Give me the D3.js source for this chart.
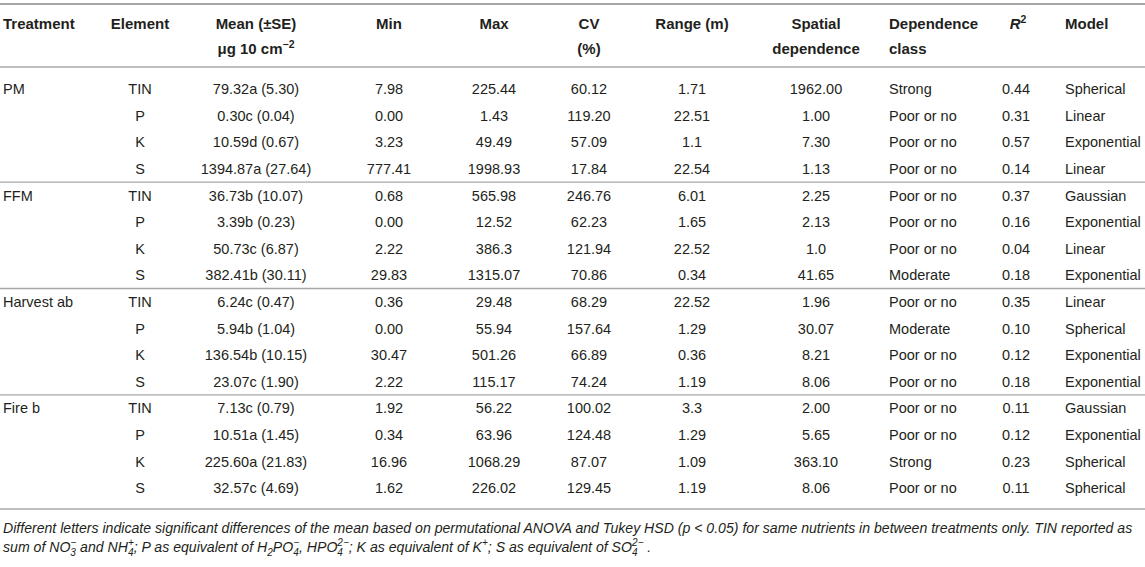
<!DOCTYPE html>
<html>
<head>
<meta charset="utf-8">
<script src="https://cdn.jsdelivr.net/npm/d3@7"></script>
<style>
  html, body { margin: 0; padding: 0; background: #fff; }
  svg { display: block; font-family: "Liberation Sans", Arial, Helvetica, sans-serif; }
</style>
</head>
<body>
<div id="table"></div>
<script>
// Table values, one array per column
const treatments = ['PM', 'FFM', 'Harvest ab', 'Fire b'];
const elements = ['TIN', 'P', 'K', 'S'];
const means = [
  '79.32a (5.30)', '0.30c (0.04)', '10.59d (0.67)', '1394.87a (27.64)',
  '36.73b (10.07)', '3.39b (0.23)', '50.73c (6.87)', '382.41b (30.11)',
  '6.24c (0.47)', '5.94b (1.04)', '136.54b (10.15)', '23.07c (1.90)',
  '7.13c (0.79)', '10.51a (1.45)', '225.60a (21.83)', '32.57c (4.69)'
];
const mins = ['7.98', '0.00', '3.23', '777.41', '0.68', '0.00', '2.22', '29.83',
  '0.36', '0.00', '30.47', '2.22', '1.92', '0.34', '16.96', '1.62'];
const maxs = ['225.44', '1.43', '49.49', '1998.93', '565.98', '12.52', '386.3', '1315.07',
  '29.48', '55.94', '501.26', '115.17', '56.22', '63.96', '1068.29', '226.02'];
const cvs = ['60.12', '119.20', '57.09', '17.84', '246.76', '62.23', '121.94', '70.86',
  '68.29', '157.64', '66.89', '74.24', '100.02', '124.48', '87.07', '129.45'];
const ranges = ['1.71', '22.51', '1.1', '22.54', '6.01', '1.65', '22.52', '0.34',
  '22.52', '1.29', '0.36', '1.19', '3.3', '1.29', '1.09', '1.19'];
const spatialDep = ['1962.00', '1.00', '7.30', '1.13', '2.25', '2.13', '1.0', '41.65',
  '1.96', '30.07', '8.21', '8.06', '2.00', '5.65', '363.10', '8.06'];
const depClass = ['Strong', 'Poor or no', 'Poor or no', 'Poor or no',
  'Poor or no', 'Poor or no', 'Poor or no', 'Moderate',
  'Poor or no', 'Moderate', 'Poor or no', 'Poor or no',
  'Poor or no', 'Poor or no', 'Strong', 'Poor or no'];
const r2s = ['0.44', '0.31', '0.57', '0.14', '0.37', '0.16', '0.04', '0.18',
  '0.35', '0.10', '0.12', '0.18', '0.11', '0.12', '0.23', '0.11'];
const models = ['Spherical', 'Linear', 'Exponential', 'Linear',
  'Gaussian', 'Exponential', 'Linear', 'Exponential',
  'Linear', 'Spherical', 'Exponential', 'Exponential',
  'Gaussian', 'Exponential', 'Spherical', 'Spherical'];

const columnKeys = ['treatment', 'element', 'mean', 'min', 'max', 'cv', 'range', 'spatial', 'depClass', 'r2', 'model'];

const width = 1145;
const height = 567;
const textColor = '#231f20';
const ruleColor = '#a7a7a7';

// Column anchor position and alignment
const xCol = d3.scaleOrdinal()
  .domain(columnKeys)
  .range([3, 140, 256, 389, 494, 589, 692, 816, 889, 1016, 1065]);
const anchorCol = d3.scaleOrdinal()
  .domain(columnKeys)
  .range(['start', 'middle', 'middle', 'middle', 'middle', 'middle', 'middle', 'middle', 'start', 'middle', 'start']);

// Row centres
const nRows = treatments.length * elements.length;
const yRow = d3.scaleLinear().domain([0, nRows - 1]).range([89, 488]);

const svg = d3.select('#table')
  .append('svg')
  .attr('width', width)
  .attr('height', height);

// Rules
svg.append('line')
  .attr('x1', 0).attr('x2', width)
  .attr('y1', 4).attr('y2', 4)
  .attr('stroke', ruleColor).attr('stroke-width', 2.2);

const ruleYs = [67, 509];
d3.range(1, treatments.length).forEach(g => {
  ruleYs.push((yRow(g * 4 - 1) + yRow(g * 4)) / 2);
});
svg.selectAll('.rule')
  .data(ruleYs)
  .enter()
  .append('line')
  .attr('class', 'rule')
  .attr('x1', 0).attr('x2', width)
  .attr('y1', d => d).attr('y2', d => d)
  .attr('stroke', ruleColor).attr('stroke-width', 1.4);

// Header
const header = svg.append('g')
  .attr('font-weight', 'bold')
  .attr('font-size', '15px')
  .attr('fill', textColor);

const headerLines = [
  ['treatment', ['Treatment']],
  ['element', ['Element']],
  ['mean', ['Mean (±SE)', null]],
  ['min', ['Min']],
  ['max', ['Max']],
  ['cv', ['CV', '(%)']],
  ['range', ['Range (m)']],
  ['spatial', ['Spatial', 'dependence']],
  ['depClass', ['Dependence', 'class']],
  ['r2', [null]],
  ['model', ['Model']]
];
const headerY = [29, 54];

headerLines.forEach(([key, lines]) => {
  lines.forEach((txt, i) => {
    if (txt === null) return;
    header.append('text')
      .attr('x', xCol(key))
      .attr('y', headerY[i])
      .attr('text-anchor', anchorCol(key))
      .text(txt);
  });
});

// μg 10 cm−2
const unit = header.append('text')
  .attr('x', xCol('mean'))
  .attr('y', headerY[1])
  .attr('text-anchor', 'middle');
unit.append('tspan').text('μg 10 cm');
unit.append('tspan').attr('font-size', '10.5px').attr('dy', -6).text('−2');

// R²
const r2Head = header.append('text')
  .attr('x', xCol('r2') + 2)
  .attr('y', headerY[0])
  .attr('text-anchor', 'middle');
r2Head.append('tspan').attr('font-style', 'italic').text('R');
r2Head.append('tspan').attr('font-size', '10.5px').attr('dy', -6).text('2');

// Body cells
const rows = d3.range(nRows).map(i => ({
  treatment: i % 4 === 0 ? treatments[Math.floor(i / 4)] : '',
  element: elements[i % 4],
  mean: means[i],
  min: mins[i],
  max: maxs[i],
  cv: cvs[i],
  range: ranges[i],
  spatial: spatialDep[i],
  depClass: depClass[i],
  r2: r2s[i],
  model: models[i]
}));

const body = svg.append('g')
  .attr('font-size', '14.5px')
  .attr('fill', textColor);

const rowG = body.selectAll('.row')
  .data(rows)
  .enter()
  .append('g')
  .attr('class', 'row')
  .attr('transform', (d, i) => `translate(0,${yRow(i)})`);

rowG.selectAll('text')
  .data(d => columnKeys.map(k => ({ key: k, value: d[k] })))
  .enter()
  .append('text')
  .attr('x', d => xCol(d.key))
  .attr('dy', '0.36em')
  .attr('text-anchor', d => anchorCol(d.key))
  .text(d => d.value);

// Footnote
const note = svg.append('g')
  .attr('font-size', '14.1px')
  .attr('font-style', 'italic')
  .attr('fill', textColor);

note.append('text')
  .attr('x', 3).attr('y', 533)
  .text('Different letters indicate significant differences of the mean based on permutational ANOVA and Tukey HSD (p < 0.05) for same nutrients in between treatments only. TIN reported as');

// second line with stacked sub/superscripts
const line2 = note.append('text').attr('x', 3).attr('y', 552);
const parts = [
  ['t', 'sum of NO'], ['s', '3', '−'], ['t', ' and NH'], ['s', '4', '+'],
  ['t', '; P as equivalent of H'], ['b', '2'], ['t', 'PO'], ['s', '4', '−'],
  ['t', ', HPO'], ['s', '4', '2−'], ['t', '; K as equivalent of K'], ['p', '+'],
  ['t', '; S as equivalent of SO'], ['s', '4', '2−'], ['t', ' .']
];
const small = 10;
let pendDx = 0;
let pendDy = 0;
function addSpan(txt, size, dx, dy) {
  const ts = line2.append('tspan')
    .attr('dx', pendDx + dx)
    .attr('dy', pendDy + dy)
    .text(txt);
  if (size) ts.attr('font-size', size + 'px');
  pendDx = 0;
  pendDy = 0;
  return ts;
}
parts.forEach(p => {
  if (p[0] === 't') {
    addSpan(p[1], null, 0, 0);
  } else if (p[0] === 'b') {
    addSpan(p[1], small, 0, 4);
    pendDy = -4;
  } else if (p[0] === 'p') {
    addSpan(p[1], small, 0, -6);
    pendDy = 6;
  } else {
    const sub = addSpan(p[1], small, 0, 4);
    const subW = sub.node().getComputedTextLength();
    const sup = addSpan(p[2], small, -subW, -10);
    const supW = sup.node().getComputedTextLength();
    pendDx = Math.max(0, subW - supW);
    pendDy = 6;
  }
});
</script>
</body>
</html>
